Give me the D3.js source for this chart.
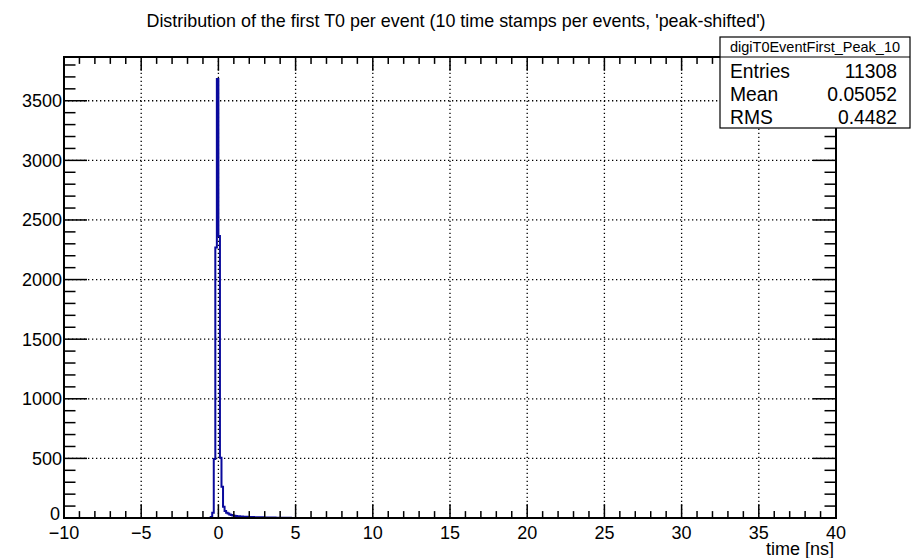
<!DOCTYPE html>
<html>
<head>
<meta charset="utf-8">
<script src="https://cdn.jsdelivr.net/npm/d3@7"></script>
<style>
  body { margin: 0; background: #fff; }
  svg { display: block; font-family: "Liberation Sans", Arial, Helvetica, sans-serif; }
</style>
</head>
<body>
<div id="chart"></div>
<script>
// histogram digiT0EventFirst_Peak_10, bin width 0.1 ns (only non-empty bins listed)
const binWidth = 0.1;
const binLow = [-0.5, -0.4, -0.3, -0.2, -0.1, 0.0, 0.1, 0.2, 0.3, 0.4,
                0.5, 0.6, 0.7, 0.8, 0.9, 1.0, 1.1, 1.2, 1.3, 1.4,
                1.5, 1.6, 1.7, 1.8, 1.9, 2.0, 2.1, 2.2, 2.3, 2.4,
                2.5, 2.6, 2.7, 2.8, 2.9, 3.0, 3.1, 3.2, 3.3, 3.4,
                3.5, 3.6, 3.7, 3.8, 3.9, 4.0, 4.1, 4.2, 4.3, 4.4,
                4.5, 4.6, 4.7, 4.8, 4.9, 5.0];
const counts = [8, 45, 495, 2270, 3683, 2366, 505, 262, 95, 58,
                45, 38, 30, 26, 22, 19, 17, 15, 14, 13,
                12, 11, 10, 10, 9, 9, 8, 8, 7, 7,
                7, 6, 6, 6, 5, 5, 5, 5, 4, 4,
                4, 4, 3, 3, 3, 3, 3, 2, 2, 2,
                2, 2, 1, 1, 1, 1];

const xMajor = [-10, -5, 0, 5, 10, 15, 20, 25, 30, 35, 40];
const yMajor = [0, 500, 1000, 1500, 2000, 2500, 3000, 3500];
const statNames = ["Entries", "Mean", "RMS"];
const statValues = ["11308", "0.05052", "0.4482"];

const titleText = "Distribution of the first T0 per event (10 time stamps per events, 'peak-shifted')";
const histName = "digiT0EventFirst_Peak_10";

const W = 912, H = 558;
const margin = {left: 64, right: 76, top: 57, bottom: 40};
const x0 = margin.left, x1 = W - margin.right;
const y0 = H - margin.bottom, y1 = margin.top;

const x = d3.scaleLinear().domain([-10, 40]).range([x0, x1]);
const y = d3.scaleLinear().domain([0, 3867]).range([y0, y1]);

const svg = d3.select("#chart").append("svg")
    .attr("width", W)
    .attr("height", H);

// grid
const grid = svg.append("g")
    .attr("stroke", "#000")
    .attr("stroke-width", 1.3)
    .attr("stroke-dasharray", "1.3,2.7");
grid.selectAll("line.gx")
    .data(xMajor.filter(d => d > -10 && d < 40))
    .join("line")
    .attr("x1", d => x(d)).attr("x2", d => x(d))
    .attr("y1", y0).attr("y2", y1);
grid.selectAll("line.gy")
    .data(yMajor.filter(d => d > 0))
    .join("line")
    .attr("class", "gy")
    .attr("x1", x0).attr("x2", x1)
    .attr("y1", d => y(d)).attr("y2", d => y(d));

// histogram outline
const pts = [[x(-10), y(0)], [x(binLow[0]), y(0)]];
binLow.forEach(function (b, i) {
    pts.push([x(b), y(counts[i])]);
    pts.push([x(b + binWidth), y(counts[i])]);
});
pts.push([x(binLow[binLow.length - 1] + binWidth), y(0)]);
pts.push([x(40), y(0)]);

svg.append("path")
    .attr("d", d3.line()(pts))
    .attr("fill", "none")
    .attr("stroke", "#0a0a9c")
    .attr("stroke-width", 2)
    .attr("stroke-linejoin", "miter");

// axes: ticks on all four sides, ROOT style
const xMinor = d3.range(-10, 40.001, 1);
const yMinor = d3.range(0, 3867, 100);
const xTickMaj = 13.8, xTickMin = 6.9;
const yTickMaj = 23, yTickMin = 11.5;

const ticks = svg.append("g").attr("stroke", "#000").attr("stroke-width", 1.5);
// bottom
ticks.selectAll("line.bx").data(xMinor).join("line").attr("class", "bx")
    .attr("x1", d => x(d)).attr("x2", d => x(d))
    .attr("y1", y0).attr("y2", d => y0 - (d % 5 === 0 ? xTickMaj : xTickMin));
// top
ticks.selectAll("line.tx").data(xMinor).join("line").attr("class", "tx")
    .attr("x1", d => x(d)).attr("x2", d => x(d))
    .attr("y1", y1).attr("y2", d => y1 + (d % 5 === 0 ? xTickMaj : xTickMin));
// left
ticks.selectAll("line.ly").data(yMinor).join("line").attr("class", "ly")
    .attr("y1", d => y(d)).attr("y2", d => y(d))
    .attr("x1", x0).attr("x2", d => x0 + (d % 500 === 0 ? yTickMaj : yTickMin));
// right
ticks.selectAll("line.ry").data(yMinor).join("line").attr("class", "ry")
    .attr("y1", d => y(d)).attr("y2", d => y(d))
    .attr("x1", x1).attr("x2", d => x1 - (d % 500 === 0 ? yTickMaj : yTickMin));

// frame
svg.append("rect")
    .attr("x", x0).attr("y", y1)
    .attr("width", x1 - x0).attr("height", y0 - y1)
    .attr("fill", "none").attr("stroke", "#000").attr("stroke-width", 2);

// tick labels
const fmt = d3.format("d");
svg.append("g").selectAll("text").data(xMajor).join("text")
    .attr("x", d => x(d)).attr("y", y0 + 21)
    .attr("text-anchor", "middle")
    .attr("font-size", 18)
    .text(d => fmt(d));
svg.append("g").selectAll("text").data(yMajor).join("text")
    .attr("x", d => x0 - (d === 0 ? 4 : 2)).attr("y", d => y(d) + (d === 0 ? 2 : 6.5))
    .attr("text-anchor", "end")
    .attr("font-size", 18)
    .text(d => fmt(d));

svg.append("text")
    .attr("x", x1 - 2).attr("y", y0 + 37)
    .attr("text-anchor", "end")
    .attr("font-size", 18)
    .text("time [ns]");

// title
svg.append("text")
    .attr("x", W / 2).attr("y", 27)
    .attr("text-anchor", "middle")
    .attr("font-size", 17.9)
    .text(titleText);

// stats box
const sb = {x: 720, y: 37, w: 190, h: 91, head: 20};
const stats = svg.append("g");
stats.append("rect")
    .attr("x", sb.x).attr("y", sb.y).attr("width", sb.w).attr("height", sb.h)
    .attr("fill", "#fff").attr("stroke", "#000").attr("stroke-width", 1.2);
stats.append("line")
    .attr("x1", sb.x).attr("x2", sb.x + sb.w)
    .attr("y1", sb.y + sb.head).attr("y2", sb.y + sb.head)
    .attr("stroke", "#000").attr("stroke-width", 1.2);
stats.append("text")
    .attr("x", sb.x + sb.w / 2).attr("y", sb.y + 15)
    .attr("text-anchor", "middle")
    .attr("font-size", 14.5)
    .text(histName);
statNames.forEach(function (n, i) {
    const by = 78 + i * 23;
    stats.append("text")
        .attr("x", sb.x + 10).attr("y", by)
        .attr("font-size", 19.3)
        .text(n);
    stats.append("text")
        .attr("x", sb.x + sb.w - 13).attr("y", by)
        .attr("text-anchor", "end")
        .attr("font-size", 19.3)
        .text(statValues[i]);
});
</script>
</body>
</html>
